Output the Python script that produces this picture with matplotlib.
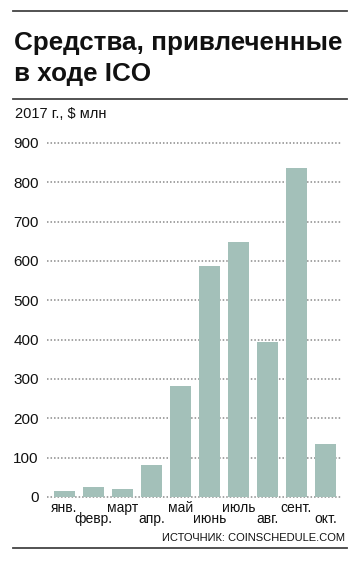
import matplotlib
matplotlib.use("Agg")
import matplotlib.pyplot as plt
from matplotlib.lines import Line2D
import matplotlib.transforms as mtransforms

# ── Data ─────────────────────────────────────────────────────────────────────
months = ["янв.", "февр.", "март", "апр.", "май", "июнь",
          "июль", "авг.", "сент.", "окт."]
raised = [16, 25, 20, 81, 282, 588, 648, 394, 836, 134]
yticks = [0, 100, 200, 300, 400, 500, 600, 700, 800, 900]

# ── Style ────────────────────────────────────────────────────────────────────
BAR = "#a3c0b9"
GRID = "#8a8a8a"
INK = "#111111"
RULE = "#444444"
FONT = ["Liberation Sans", "DejaVu Sans"]

W, H = 359, 563
fig = plt.figure(figsize=(W / 100, H / 100), dpi=100)
fig.patch.set_facecolor("white")


def px(x, y):
    # pixel coords (top-left origin) -> figure fraction
    return x / W, 1 - y / H


def rule(y, x0=13, x1=347, lw=1.3):
    (a, b), (c, d) = px(x0, y), px(x1, y)
    fig.add_artist(Line2D([a, c], [b, d], color=RULE, lw=lw,
                          transform=fig.transFigure))


# ── Header ───────────────────────────────────────────────────────────────────
rule(11)
fx, fy = px(14, 50)
fig.text(fx, fy, "Средства, привлеченные", fontsize=18.7, fontweight="heavy",
         color=INK, ha="left", va="baseline", family=FONT)
fx, fy = px(14, 81)
fig.text(fx, fy, "в ходе ICO", fontsize=18.7, fontweight="heavy",
         color=INK, ha="left", va="baseline", family=FONT)
rule(99)
fx, fy = px(15, 114)
fig.text(fx, fy, "2017 г., $ млн", fontsize=10.5, color=INK,
         ha="left", va="center", family=FONT)

# ── Axes ─────────────────────────────────────────────────────────────────────
left, top, right, bottom = 47, 143, 342, 497
ax = fig.add_axes([left / W, 1 - bottom / H, (right - left) / W, (bottom - top) / H])
ax.set_xlim(-0.603, 9.57)
ax.set_ylim(0, 900)
for s in ax.spines.values():
    s.set_visible(False)

for v in yticks:
    ax.axhline(v, color=GRID, lw=1.1, linestyle=(0, (1, 1.3)), zorder=1, clip_on=False)

x = list(range(len(months)))
ax.bar(x, raised, width=0.72, color=BAR, zorder=2)

ax.set_yticks(yticks)
ax.set_yticklabels([str(v) for v in yticks], fontsize=11, color=INK, family=FONT)
ax.tick_params(axis="y", length=0, pad=6)
ax.set_xticks([])

# alternating month labels
for i, m in enumerate(months):
    off = -8 if i % 2 == 0 else -16
    tr = mtransforms.offset_copy(ax.get_xaxis_transform(), fig=fig, x=0, y=off, units="points")
    ax.text(i, 0, m, transform=tr, fontsize=10, color=INK, ha="center",
            va="center", family=FONT)

# ── Footer ───────────────────────────────────────────────────────────────────
fx, fy = px(345, 538)
fig.text(fx, fy, "ИСТОЧНИК: COINSCHEDULE.COM", fontsize=8, color=INK,
         ha="right", va="center", family=FONT)
rule(548)

fig.savefig("out.png", dpi=100, facecolor="white")
